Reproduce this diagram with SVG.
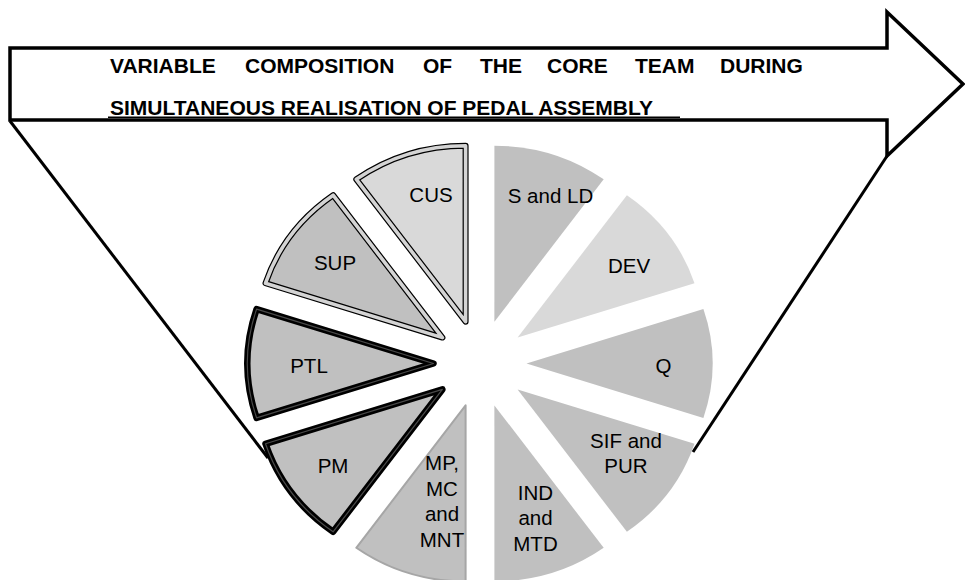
<svg xmlns="http://www.w3.org/2000/svg" width="965" height="580" viewBox="0 0 965 580">
<style>
.title{font-family:"Liberation Sans",Arial,sans-serif;font-weight:bold;font-size:21px;fill:#000}
.lbl{font-family:"Liberation Sans",Arial,sans-serif;font-size:20.5px;fill:#000;text-anchor:middle}
.mid{fill:#c0c0c0}
.light{fill:#d9d9d9}
.plain{stroke:none}
.grayline{stroke:#a6a6a6;stroke-width:2;stroke-linejoin:round}
.dark-out{fill:none;stroke:#000;stroke-width:6.5;stroke-linejoin:round}
.dark-in{fill:none;stroke:#4a4a4a;stroke-width:1.2;stroke-linejoin:round}
.pale-out{fill:none;stroke:#000;stroke-width:6;stroke-linejoin:round}
.pale-in{fill:none;stroke:#d4d4d4;stroke-width:3.6;stroke-linejoin:round}
.conn{fill:none;stroke:#000;stroke-width:3}
</style>
<rect width="965" height="580" fill="#fff"/>
<g id="title-arrow">
<path d="M10,48 H887 V12 L963,84 L887,156 V120 H10 Z" fill="#fff" stroke="#000" stroke-width="3.5" stroke-linejoin="miter"/>
<text class="title" x="110" y="73">VARIABLE</text>
<text class="title" x="245" y="73">COMPOSITION</text>
<text class="title" x="423" y="73">OF</text>
<text class="title" x="480" y="73">THE</text>
<text class="title" x="547" y="73">CORE</text>
<text class="title" x="635" y="73">TEAM</text>
<text class="title" x="720" y="73">DURING</text>
<text class="title" x="110" y="115">SIMULTANEOUS REALISATION OF PEDAL ASSEMBLY</text>
<line x1="108" y1="117.3" x2="680" y2="117.3" stroke="#000" stroke-width="1.4"/>
</g>
<g id="connectors">
<line class="conn" x1="10" y1="121" x2="268" y2="458"/>
<line class="conn" x1="887" y1="156" x2="693" y2="452"/>
</g>
<g id="s-and-ld">
<path class="mid plain" d="M494.4,321.7 L494.4,145.7 A186,176 0 0 1 603.7,179.3 Z"/>
<text class="lbl" x="550.5" y="203">S and LD</text>
</g>
<g id="dev">
<path class="light plain" d="M517.6,337.6 L626.9,195.2 A186,176 0 0 1 694.5,283.2 Z"/>
<text class="lbl" x="629" y="273">DEV</text>
</g>
<g id="q">
<path class="mid plain" d="M526.5,363.5 L703.4,309.1 A186,176 0 0 1 703.4,417.9 Z"/>
<text class="lbl" x="663.5" y="373">Q</text>
</g>
<g id="sif-and-pur">
<path class="mid plain" d="M517.6,389.4 L694.5,443.8 A186,176 0 0 1 626.9,531.8 Z"/>
<text class="lbl" x="626" y="448">SIF and</text>
<text class="lbl" x="626" y="473">PUR</text>
</g>
<g id="ind-and-mtd">
<path class="mid plain" d="M494.4,405.4 L603.7,547.8 A186,176 0 0 1 494.4,581.4 Z"/>
<text class="lbl" x="535.5" y="500">IND</text>
<text class="lbl" x="535.5" y="525">and</text>
<text class="lbl" x="535.5" y="551">MTD</text>
</g>
<g id="mp-mc-and-mnt">
<path class="mid grayline" d="M465.6,405.4 L465.6,581.4 A186,176 0 0 1 356.3,547.8 Z"/>
<text class="lbl" x="442" y="470">MP,</text>
<text class="lbl" x="442" y="496">MC</text>
<text class="lbl" x="442" y="521">and</text>
<text class="lbl" x="442" y="547">MNT</text>
</g>
<g id="pm">
<path class="mid plain" d="M442.4,389.4 L333.1,531.8 A186,176 0 0 1 265.5,443.8 Z"/>
<path class="dark-out" d="M442.4,389.4 L333.1,531.8 A186,176 0 0 1 265.5,443.8 Z"/>
<path class="dark-in" d="M442.4,389.4 L333.1,531.8 A186,176 0 0 1 265.5,443.8 Z"/>
<text class="lbl" x="333" y="473">PM</text>
</g>
<g id="ptl">
<path class="mid plain" d="M433.5,363.5 L256.6,417.9 A186,176 0 0 1 256.6,309.1 Z"/>
<path class="dark-out" d="M433.5,363.5 L256.6,417.9 A186,176 0 0 1 256.6,309.1 Z"/>
<path class="dark-in" d="M433.5,363.5 L256.6,417.9 A186,176 0 0 1 256.6,309.1 Z"/>
<text class="lbl" x="309" y="373">PTL</text>
</g>
<g id="sup">
<path class="mid plain" d="M442.4,337.6 L265.5,283.2 A186,176 0 0 1 333.1,195.2 Z"/>
<path class="pale-out" d="M442.4,337.6 L265.5,283.2 A186,176 0 0 1 333.1,195.2 Z"/>
<path class="pale-in" d="M442.4,337.6 L265.5,283.2 A186,176 0 0 1 333.1,195.2 Z"/>
<text class="lbl" x="335" y="270">SUP</text>
</g>
<g id="cus">
<path class="light plain" d="M465.6,321.7 L356.3,179.3 A186,176 0 0 1 465.6,145.7 Z"/>
<path class="pale-out" d="M465.6,321.7 L356.3,179.3 A186,176 0 0 1 465.6,145.7 Z"/>
<path class="pale-in" d="M465.6,321.7 L356.3,179.3 A186,176 0 0 1 465.6,145.7 Z"/>
<text class="lbl" x="431" y="202">CUS</text>
</g>
</svg>
